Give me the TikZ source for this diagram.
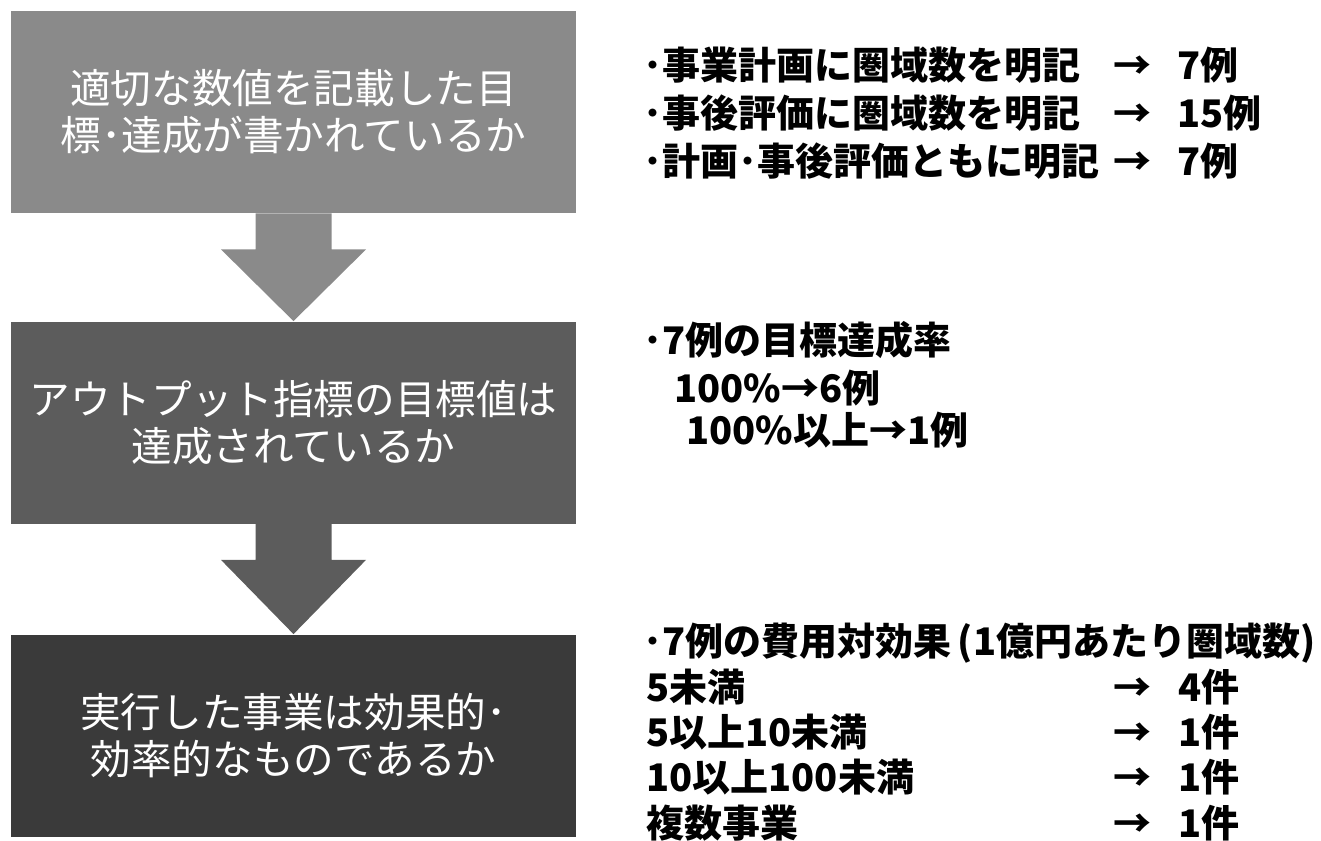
\documentclass[tikz,border=0pt]{standalone}
\usepackage{fontspec}
\usepackage{xcolor}
\usetikzlibrary{calc}
\setmainfont{Noto Sans CJK JP}
\newfontfamily\jp{Noto Sans CJK JP}
\definecolor{stageA}{HTML}{8A8A8A}
\definecolor{stageB}{HTML}{5C5C5C}
\definecolor{stageC}{HTML}{3A3A3A}
\tikzset{
  stagebox/.style={minimum width=282.5pt, minimum height=101pt, inner sep=0pt,
    align=center, text=white, font=\jp\fontsize{20.3}{23.5}\selectfont},
  note/.style={anchor=west, inner sep=0pt, text height=16.7pt, text depth=2.6pt,
    font=\jp\bfseries\fontsize{19}{22}\selectfont},
}

\begin{document}
\begin{tikzpicture}[x=0.5pt,y=-0.5pt]
\useasboundingbox (0,0) rectangle (1321,840);
% Stages
    \node[stagebox, fill=stageA] (goal) at (293.5,112) {適切な数値を記載した目\\標･達成が書かれているか};
    \node[stagebox, fill=stageB] (output) at (293.5,422.5) {アウトプット指標の目標値は\\達成されているか};
    \node[stagebox, fill=stageC] (effect) at (293.5,735.5) {実行した事業は効果的･\\効率的なものであるか};
% Block arrows between stages
    \fill[stageA] ($(goal.south)+(-38,0)$) -- ++(0,36) -- ++(-34.5,0) -- (output.north)
        -- ($(goal.south)+(72.5,36)$) -- ++(-34.5,0) -- ($(goal.south)+(38,0)$) -- cycle;
    \fill[stageB] ($(output.south)+(-38,0)$) -- ++(0,36) -- ++(-34.5,0) -- (effect.north)
        -- ($(output.south)+(72.5,36)$) -- ++(-34.5,0) -- ($(output.south)+(38,0)$) -- cycle;
% Notes for the first stage
    \foreach \lbl/\num/\y [count=\i] in {･事業計画に圏域数を明記/7例/65, ･事後評価に圏域数を明記/15例/113, ･計画･事後評価ともに明記/7例/161} {
        \node[note] (goalTxt\i) at (643,\y) {\lbl};
        \node[note, anchor=center] (goalArr\i) at (1132,\y) {→};
        \node[note] (goalNum\i) at (1177,\y) {\num};
    }
% Notes for the second stage
    \node[note] (rateHead) at (643,340) {･7例の目標達成率};
    \node[note] (rateA) at (674,388) {100\%→6例};
    \node[note] (rateB) at (686,430) {100\%以上→1例};
% Notes for the third stage
    \node[note] (costHead) at (643,641) {･7例の費用対効果\,(1億円あたり圏域数)};
    \foreach \lbl/\num/\y [count=\i] in {5未満/4件/687, 5以上10未満/1件/732, 10以上100未満/1件/777, 複数事業/1件/823} {
        \node[note] (costTxt\i) at (646,\y) {\lbl};
        \node[note, anchor=center] (costArr\i) at (1132,\y) {→};
        \node[note] (costNum\i) at (1178,\y) {\num};
    }
\end{tikzpicture}
\end{document}
